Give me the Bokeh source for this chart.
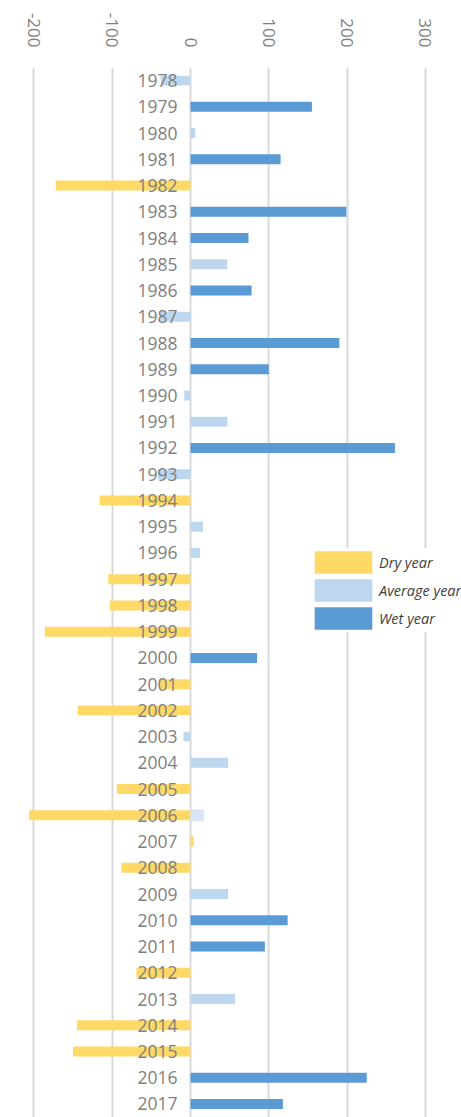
import math
from bokeh.plotting import figure
from bokeh.models import Range1d, FixedTicker, ColumnDataSource
from bokeh.core.properties import value
from bokeh.embed import file_html
from bokeh.resources import INLINE

years = list(range(1978, 2018))
anomaly = [-38, 155, 6, 115, -172, 199, 74, 47, 78, -40,
           190, 100, -8, 47, 261, -42, -116, 16, 12, -105,
           -103, -186, 85, -40, -144, -9, 48, -94, -206, 4,
           -88, 48, 124, 95, -69, 57, -145, -150, 225, 118]
year_type = ["A", "W", "A", "W", "D", "W", "W", "A", "W", "A",
             "W", "W", "A", "A", "W", "A", "D", "A", "A", "D",
             "D", "D", "W", "D", "D", "A", "A", "D", "D", "D",
             "D", "A", "W", "W", "D", "A", "D", "D", "W", "W"]
type_names = {"D": "Dry year", "A": "Average year", "W": "Wet year"}
type_colors = {"D": "#FFD966", "A": "#BDD7EE", "W": "#5B9BD5"}
extra_years = [2006]
extra_values = [17]
ticks = [-200, -100, 0, 100, 200, 300]

row_px = 26.24
frame_top = 67
H = 1117
W = 461
zero_px = 190.0
px_per_unit = 0.7833

x_start = -zero_px / px_per_unit
x_end = (W - zero_px) / px_per_unit
y_bottom = -0.5 + (H - frame_top) / row_px

p = figure(width=W, height=H, output_backend="svg", toolbar_location=None,
           x_range=Range1d(x_start, x_end), y_range=Range1d(y_bottom, -0.5),
           x_axis_location="above", min_border_top=frame_top,
           min_border_left=0, min_border_right=0, min_border_bottom=0)
p.outline_line_color = None
p.yaxis.visible = False
p.ygrid.visible = False

p.xaxis.ticker = FixedTicker(ticks=ticks)
p.xaxis.major_label_overrides = {t: str(t) for t in ticks}
p.xaxis.axis_line_color = None
p.xaxis.major_tick_line_color = None
p.xaxis.minor_tick_line_color = None
p.xaxis.major_tick_out = 0
p.xaxis.major_tick_in = 0
p.xaxis.major_label_orientation = -math.pi / 2
p.xaxis.major_label_standoff = 20
p.xaxis.major_label_text_font = "Open Sans"
p.xaxis.major_label_text_font_size = "17px"
p.xaxis.major_label_text_color = "#7f7f7f"
p.xgrid.grid_line_color = "#d9d9d9"
p.xgrid.grid_line_width = 2

idx = {y: i for i, y in enumerate(years)}
for t in ["D", "A", "W"]:
    ys = [i for i, tt in enumerate(year_type) if tt == t]
    vs = [anomaly[i] for i in ys]
    src = ColumnDataSource(dict(y=ys, right=vs))
    p.hbar(y="y", left=0, right="right", height=0.38, source=src,
           fill_color=type_colors[t], line_color=None, legend_label=type_names[t])

p.hbar(y=[idx[y] for y in extra_years], left=0, right=extra_values, height=0.45,
       fill_color="#DAE5F3", line_color=None)

p.text(x=[0] * len(years), y=list(range(len(years))), text=[str(y) for y in years],
       text_align="right", text_baseline="middle", x_offset=-13,
       text_font=value("Open Sans"), text_font_size="17.5px", text_color="#7f7f7f")

lg = p.legend[0]
lg.location = (307, 485)
lg.border_line_color = None
lg.background_fill_color = "white"
lg.background_fill_alpha = 1.0
lg.glyph_width = 72
lg.glyph_height = 28
lg.label_height = 28
lg.label_standoff = 0
lg.spacing = 0
lg.padding = 8
lg.margin = 0
lg.label_text_font = "Open Sans"
lg.label_text_font_style = "italic"
lg.label_text_font_size = "14.5px"
lg.label_text_color = "#404040"

open("out.html", "w").write(file_html(p, INLINE))
